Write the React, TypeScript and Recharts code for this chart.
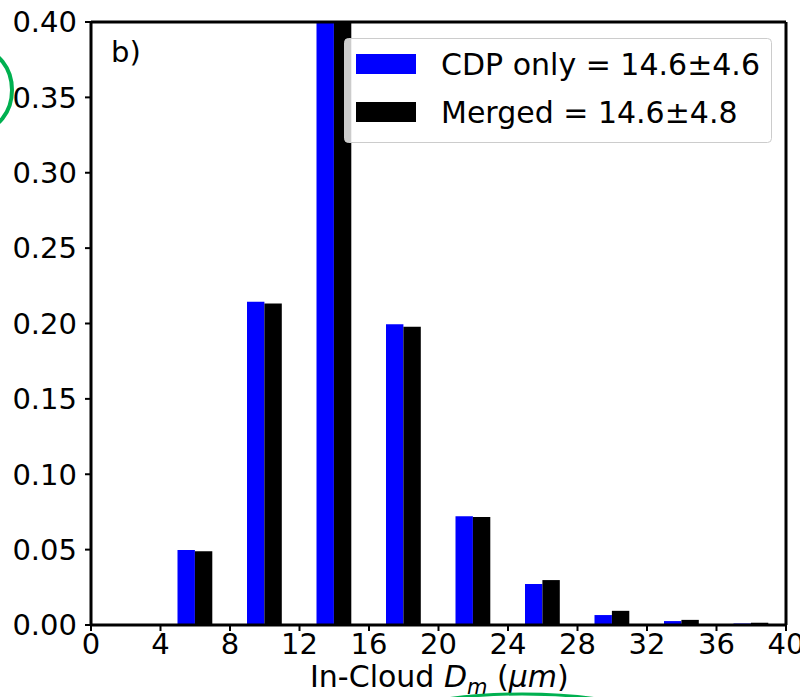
import React from "react";
import { BarChart, Bar, XAxis, YAxis, ReferenceLine } from "recharts";

// bin centres of the 4 µm wide size bins
const binCenters = [6, 10, 14, 18, 22, 26, 30, 34, 38];
// normalised frequency, CDP only
const cdpOnly = [0.0497, 0.2145, 0.43, 0.1995, 0.0722, 0.0272, 0.0066, 0.0026, 0.001];
// normalised frequency, merged CDP + 2DS
const merged = [0.049, 0.2132, 0.425, 0.1978, 0.0716, 0.0298, 0.0094, 0.0034, 0.0015];

const xTicks = [0, 4, 8, 12, 16, 20, 24, 28, 32, 36, 40];
const yTicks = [0, 0.05, 0.1, 0.15, 0.2, 0.25, 0.3, 0.35, 0.4];

const legendLabels = ["CDP only = 14.6\u00b14.6", "Merged = 14.6\u00b14.8"];
const seriesColors = ["#0000ff", "#000000"];

const data = binCenters.map((x, i) => ({ x, cdp: cdpOnly[i], merged: merged[i] }));

const FONT = "'DejaVu Sans', sans-serif";
const W = 800;
const H = 697;

export default function App() {
  return (
    <div style={{ position: "absolute", left: 0, top: 0, width: W, height: H, background: "#fff" }}>
      <BarChart
        width={W}
        height={H}
        data={data}
        margin={{ top: 22, right: 14, bottom: 0, left: 0 }}
        barGap={0}
        barSize={17.4}
      >
        <XAxis
          dataKey="x"
          type="number"
          domain={[0, 40]}
          ticks={xTicks}
          height={72}
          tickSize={6}
          tickMargin={2}
          tick={{ fontSize: 29, fill: "#000", fontFamily: FONT }}
          axisLine={{ stroke: "#000", strokeWidth: 3 }}
          tickLine={{ stroke: "#000", strokeWidth: 2 }}
          interval={0}
        />
        <YAxis
          type="number"
          domain={[0, 0.4]}
          allowDataOverflow
          ticks={yTicks}
          width={91}
          tickSize={6}
          tickMargin={8}
          tickFormatter={(v: number) => v.toFixed(2)}
          tick={{ fontSize: 29, fill: "#000", fontFamily: FONT }}
          axisLine={{ stroke: "#000", strokeWidth: 3 }}
          tickLine={{ stroke: "#000", strokeWidth: 2 }}
          interval={0}
        />
        <Bar dataKey="cdp" fill={seriesColors[0]} isAnimationActive={false} />
        <Bar dataKey="merged" fill={seriesColors[1]} isAnimationActive={false} />
        <ReferenceLine y={0.4} stroke="#000" strokeWidth={3} />
        <ReferenceLine x={40} stroke="#000" strokeWidth={3} />
      </BarChart>

      <svg
        width={W}
        height={H}
        style={{ position: "absolute", left: 0, top: 0, pointerEvents: "none", fontFamily: FONT }}
      >
        <text x={111} y={62} fontSize={29} fill="#000">b)</text>

        {/* legend */}
        <rect x={344.5} y={38.5} width={427} height={104} rx={4} fill="#fff" fillOpacity={0.8} stroke="#cccccc" strokeWidth={1} />
        {legendLabels.map((label, i) => (
          <g key={label}>
            <rect x={356} y={54 + i * 48} width={60} height={20} fill={seriesColors[i]} />
            <text x={441} y={75 + i * 48} fontSize={30} fill="#000">{label}</text>
          </g>
        ))}

        {/* x-axis title */}
        <text x={310} y={687} fontSize={30} fill="#000">
          In-Cloud <tspan fontStyle="italic">D</tspan>
          <tspan fontStyle="italic" fontSize={21} dy={7}>m</tspan>
          <tspan dy={-7}> (</tspan>
          <tspan fontStyle="italic">μm</tspan>)
        </text>

        {/* hand-drawn highlight marks */}
        <ellipse cx={-20} cy={90} rx={32} ry={40} fill="none" stroke="#00b050" strokeWidth={4} />
        <ellipse cx={522} cy={719} rx={125} ry={25} fill="none" stroke="#00b050" strokeWidth={3} />
      </svg>
    </div>
  );
}
